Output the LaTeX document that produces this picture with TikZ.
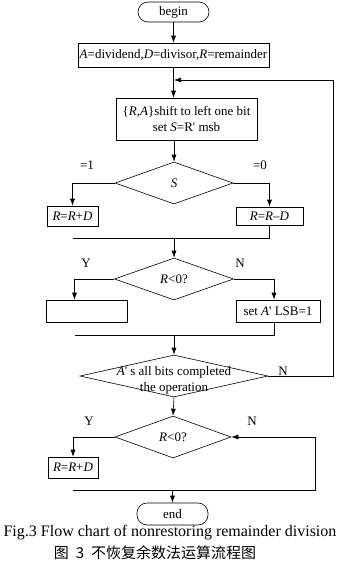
\documentclass[tikz,border=0pt]{standalone}
\usepackage{fontspec}
\setmainfont{Liberation Serif}
\newfontfamily\cjkfont{Noto Sans CJK SC}
\usepackage{tikz}
\usetikzlibrary{arrows.meta, shapes.geometric}

\begin{document}
\begin{tikzpicture}[x=1pt, y=-1pt, >={Latex[length=7pt,width=5pt]},
  line width=0.6pt,
  every node/.style={font=\fontsize{13}{16}\selectfont},
  proc/.style={draw, rectangle, inner sep=0pt, align=center},
  term/.style={draw, rectangle, rounded corners=10pt, inner sep=0pt},
  dec/.style={draw, diamond, inner sep=0pt},
  lab/.style={inner sep=0pt}]
\useasboundingbox (0,0) rectangle (340,565);
% boxes
\node[term, minimum width=71pt, minimum height=20pt] (begin) at (173.5,12) {begin};
\node[proc, minimum width=191pt, minimum height=24pt] (init) at (173.5,55) {\textit{A}=dividend,\textit{D}=divisor,\textit{R}=remainder};
\node[proc, minimum width=141pt, minimum height=42pt] (shift) at (186.5,119) {\{\textit{R},\textit{A}\}shift to left one bit\\set \textit{S}=R\textquotesingle\ msb};
\node[dec, minimum width=118pt, minimum height=42pt] (sdec) at (174,183) {\textit{S}};
\node[proc, minimum width=51pt, minimum height=20pt] (rpd1) at (72.5,216) {\textit{R}=\textit{R}+\textit{D}};
\node[proc, minimum width=67pt, minimum height=18pt] (rmd) at (269.5,216) {\textit{R}=\textit{R}--\textit{D}};
\node[dec, minimum width=119pt, minimum height=42pt] (lt1) at (174,279) {\textit{R}<0?};
\node[proc, minimum width=81pt, minimum height=22pt] (empty) at (86.5,311) {};
\node[proc, minimum width=84pt, minimum height=22pt] (lsb) at (278,311) {set \textit{A}\textquotesingle\ LSB=1};
\node[dec, minimum width=188pt, minimum height=42pt] (done) at (174,376) {};
\node[lab, align=center] (donetxt) at ([yshift=-4pt]done.center) {\textit{A}\textquotesingle\ s all bits completed\\the operation};
\node[dec, minimum width=116pt, minimum height=42pt] (lt2) at (173,437) {\textit{R}<0?};
\node[proc, minimum width=50pt, minimum height=21pt] (rpd2) at (73,467.5) {\textit{R}=\textit{R}+\textit{D}};
\node[term, minimum width=71pt, minimum height=22pt] (end) at (172.5,514) {end};
% branch labels
\node[lab] (s1) at (87,165) {=1};
\node[lab] (s0) at (260,165) {=0};
\node[lab] (y1) at (86,263) {Y};
\node[lab] (n1) at (240,263) {N};
\node[lab] (n2) at (283,371) {N};
\node[lab] (y2) at (89,421) {Y};
\node[lab] (n3) at (252,421) {N};
% joins
\coordinate (back) at (174,80);
\coordinate (m1) at (174,238);
\coordinate (m2) at (174,335);
\coordinate (m3) at (172.5,490);
\coordinate (rloop) at (315,490);
% connectors
\draw[->] (begin) -- (init);
\draw[->] (init.south) -- (init.south |- shift.north);
\draw[->] (sdec.north |- shift.south) -- (sdec.north);
\draw[->] (sdec.west) -| (rpd1.north);
\draw[->] (sdec.east) -| (rmd.north);
\draw (rpd1.south |- m1) -| (rmd.south);
\draw[->] (m1) -- (lt1.north);
\draw[->] (lt1.west) -| ([xshift=-12pt]empty.north);
\draw[->] (lt1.east) -| ([xshift=-4pt]lsb.north);
\draw ([xshift=-12pt]empty.south |- m2) -| ([xshift=-4pt]lsb.south);
\draw[->] (m2) -- (done.north);
\draw[->] (done.east) -| (333,80) -- (back);
\draw[->] (done.south) -- (lt2.north);
\draw[->] (lt2.west) -| (rpd2.north);
\draw[->] (rpd2.south |- m3) -- (rloop) |- (lt2.east);
\draw[->] (m3) -- (end.north);
% caption
\node[lab, font=\fontsize{16}{18}\selectfont] (cap) at (170,533) {Fig.3 Flow chart of nonrestoring remainder division};
\node[lab, font=\fontsize{15}{18}\selectfont\cjkfont] (capcn) at (155,553) {图\hspace{7pt}3\hspace{7pt}不恢复余数法运算流程图};
\end{tikzpicture}
\end{document}
